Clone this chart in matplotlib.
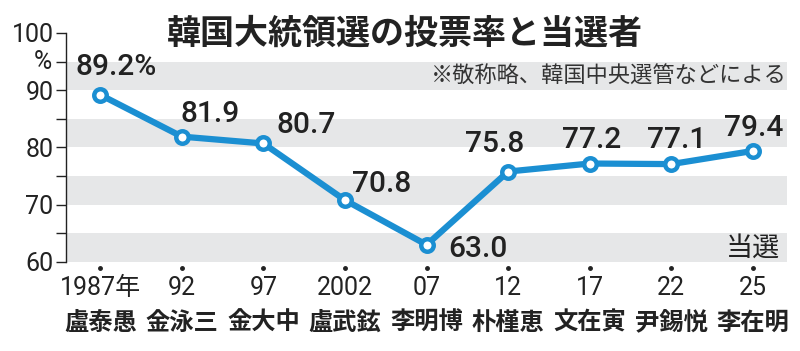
import matplotlib.pyplot as plt
from matplotlib.ticker import FixedLocator

years = ['1987年', '92', '97', '2002', '07', '12', '17', '22', '25']
winners = ['盧泰愚', '金泳三', '金大中', '盧武鉉', '李明博', '朴槿恵', '文在寅', '尹錫悦', '李在明']
turnout = [89.2, 81.9, 80.7, 70.8, 63.0, 75.8, 77.2, 77.1, 79.4]
value_labels = ['89.2%', '81.9', '80.7', '70.8', '63.0', '75.8', '77.2', '77.1', '79.4']
# label offsets in points (dx, dy) from each point
offsets = [(11.5, 20), (20, 16.5), (31, 13), (26.6, 11.5), (37, -3),
           (-10, 20), (1.5, 17), (4, 17.5), (0.7, 16.5)]

blue = '#1b8fd2'
band = '#e6e7e8'
ink = '#222222'
cjk = ['Noto Sans CJK JP', 'DejaVu Sans']
thin = ['Roboto', 'Noto Sans CJK JP']

fig = plt.figure(figsize=(8, 3.51), dpi=100)
ax = fig.add_axes([0.0825, 0.2536, 0.9015, 0.6524])

x = list(range(len(turnout)))
ax.set_xlim(-0.42, len(turnout) - 1 + 0.42)
ax.set_ylim(60, 100)

# gray bands
for lo in [60, 70, 80, 90]:
    ax.axhspan(lo, lo + 5, color=band, lw=0, zorder=0)

ax.plot(x, turnout, color=blue, lw=4.5, zorder=3, solid_capstyle='round')
ax.plot(x, turnout, 'o', ms=9, mfc='white', mec=blue, mew=3.2, zorder=4)

for xi, yi, lab, (dx, dy) in zip(x, turnout, value_labels, offsets):
    ax.annotate(lab, (xi, yi), xytext=(dx, dy), textcoords='offset points',
                ha='center', va='center', fontsize=21.5, fontweight='medium',
                family='Roboto', color=ink, zorder=5)

# axes styling
for s in ['top', 'right', 'bottom']:
    ax.spines[s].set_visible(False)
ax.spines['left'].set_color(ink)
ax.spines['left'].set_linewidth(1)
ax.set_yticks([60, 70, 80, 90, 100])
ax.set_yticklabels(['60', '70', '80', '90', '100'], family=thin, fontsize=18,
                   color=ink)
ax.yaxis.set_minor_locator(FixedLocator([65, 75, 85, 95]))
ax.tick_params(axis='y', which='both', length=7, width=1, color=ink, pad=2)
ax.set_xticks([])
ax.text(-0.019, 95, '%', transform=ax.get_yaxis_transform(), ha='right', va='center',
        family=thin, fontsize=18, color=ink)

# x labels
xt = ax.get_xaxis_transform()
ax.plot(x, [-0.026] * len(x), 'o', ms=2.5, color=ink, transform=xt, clip_on=False)
for xi, yr, nm in zip(x, years, winners):
    ax.text(xi, -0.1135, yr, transform=xt, ha='center', va='center',
            family=thin, fontsize=18, color=ink)
    ax.text(xi, -0.266, nm, transform=xt, ha='center', va='center',
            family=cjk, fontsize=17.5, fontweight='bold', color=ink)

fig.text(0.506, 0.906, '韓国大統領選の投票率と当選者', ha='center', va='center',
         family=cjk, fontsize=24.5, fontweight='bold', color=ink)
fig.text(0.983, 1 - 76 / 351, '※敬称略、韓国中央選管などによる', ha='right', va='center',
         family=cjk, fontsize=16, color='#333333')
ax.text(0.99, 62.4, '当選', transform=ax.get_yaxis_transform(), ha='right', va='center',
        family=cjk, fontsize=19.5, color=ink)

fig.savefig('out.png', dpi=100)
